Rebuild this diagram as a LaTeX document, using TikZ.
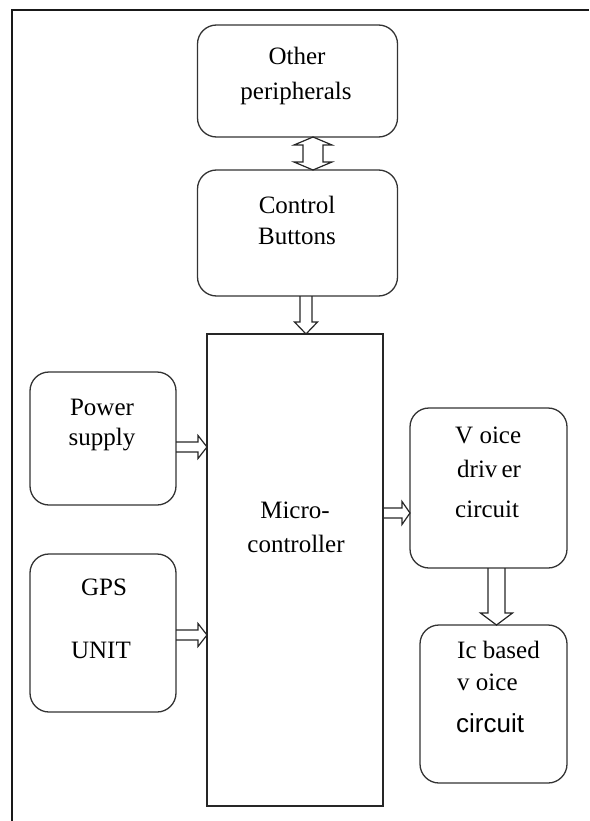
\documentclass[tikz,border=0pt]{standalone}
\usepackage{fontspec}
\setmainfont{Liberation Serif}
\newfontfamily\arialfont{Liberation Sans}
\usetikzlibrary{calc}
\begin{document}
\begin{tikzpicture}[x=1pt,y=-1pt,
  rbox/.style={draw=black!80, line width=1.3pt, rounded corners=19pt, inner sep=0pt, outer sep=0pt},
  sbox/.style={draw=black!85, line width=1.3pt, inner sep=0pt, outer sep=0pt},
  txt/.style={anchor=base, inner sep=0pt, font=\fontsize{25}{30}\selectfont},
  txtl/.style={anchor=base west, inner sep=0pt, font=\fontsize{25}{30}\selectfont},
  blk/.style={draw=black!85, line width=1.2pt, line join=miter}]
\useasboundingbox (0,0) rectangle (589,821);
% frame (top and left edges)
\draw[line width=1.8pt, black!90] (12,821) -- (12,10) -- (589,10);

% boxes
\node[rbox, minimum width=200pt, minimum height=112pt] (op) at (297.5,81) {};
\node[rbox, minimum width=200pt, minimum height=126pt] (cb) at (297.5,233) {};
\node[sbox, minimum width=176pt, minimum height=472pt] (mc) at (295,570) {};
\node[rbox, minimum width=146pt, minimum height=133pt] (ps) at (103,438.5) {};
\node[rbox, minimum width=146pt, minimum height=158pt] (gps) at (103,633) {};
\node[rbox, minimum width=157pt, minimum height=160pt] (vd) at (488.5,488) {};
\node[rbox, minimum width=147pt, minimum height=158pt] (ic) at (493.5,704) {};

% texts
\node[txt] (op1) at (297,65) {Other};
\node[txt] (op2) at (296,100) {peripherals};
\node[txt] (cb1) at (297,213) {Control};
\node[txt] (cb2) at (297,244) {Buttons};
\node[txt] (ps1) at (102,415) {Power};
\node[txt] (ps2) at (102,445) {supply};
\node[txt] (gps1) at (104,595) {GPS};
\node[txt] (gps2) at (101,658) {UNIT};
\node[txt] (mc1) at (295,518) {Micro-};
\node[txt] (mc2) at (296,552) {controller};
\node[txtl] (vd1) at (455,443) {V oice};
\node[txtl] (vd2) at (457,477) {driv\,er};
\node[txtl] (vd3) at (455,517) {circuit};
\node[txtl] (ic1) at (457,658) {Ic based};
\node[txtl] (ic2) at (457,690) {v oice};
\node[anchor=base west, inner sep=0pt, font=\arialfont\fontsize{26}{30}\selectfont] (ic3) at (456,732) {circuit};

% double arrow: Other peripherals <-> Control Buttons
\draw[blk] let \p1=($(op.south)+(15.5,0)$), \p2=(cb.north) in
  (\x1,\y1) -- (\x1+19pt,\y1-8pt) -- (\x1+10pt,\y1-8pt) -- (\x1+10pt,\y2+8pt) -- (\x1+19pt,\y2+8pt)
  -- (\x1,\y2) -- (\x1-19pt,\y2+8pt) -- (\x1-10pt,\y2+8pt) -- (\x1-10pt,\y1-8pt) -- (\x1-19pt,\y1-8pt) -- cycle;

% Control Buttons -> Microcontroller
\draw[blk] let \p1=($(cb.south)+(8.5,0)$), \p2=(mc.north) in
  (\x1-6pt,\y1) -- (\x1-6pt,\y2+12pt) -- (\x1-11.5pt,\y2+12pt) -- (\x1,\y2)
  -- (\x1+11.5pt,\y2+12pt) -- (\x1+6pt,\y2+12pt) -- (\x1+6pt,\y1);

% Power supply -> Microcontroller
\draw[blk] let \p1=($(ps.east)+(0,8.5)$), \p2=(mc.west) in
  (\x1,\y1+5pt) -- (\x2-9pt,\y1+5pt) -- (\x2-9pt,\y1+11.5pt) -- (\x2,\y1)
  -- (\x2-9pt,\y1-11.5pt) -- (\x2-9pt,\y1-5pt) -- (\x1,\y1-5pt);

% GPS -> Microcontroller
\draw[blk] let \p1=($(gps.east)+(0,2)$), \p2=(mc.west) in
  (\x1,\y1+5pt) -- (\x2-9pt,\y1+5pt) -- (\x2-9pt,\y1+11.5pt) -- (\x2,\y1)
  -- (\x2-9pt,\y1-11.5pt) -- (\x2-9pt,\y1-5pt) -- (\x1,\y1-5pt);

% Microcontroller -> Voice driver
\draw[blk] let \p1=(mc.east), \p2=($(vd.west)+(0,25)$) in
  (\x1,\y2+5pt) -- (\x2-8pt,\y2+5pt) -- (\x2-8pt,\y2+11.5pt) -- (\x2,\y2)
  -- (\x2-8pt,\y2-11.5pt) -- (\x2-8pt,\y2-5pt) -- (\x1,\y2-5pt);

% Voice driver -> Ic based voice circuit
\draw[blk] let \p1=($(vd.south)+(8,0)$), \p2=(ic.north) in
  (\x1-8.5pt,\y1) -- (\x1-8.5pt,\y2+12pt) -- (\x1-16pt,\y2+12pt) -- (\x1,\y2)
  -- (\x1+16pt,\y2+12pt) -- (\x1+8.5pt,\y2+12pt) -- (\x1+8.5pt,\y1);
\end{tikzpicture}
\end{document}
